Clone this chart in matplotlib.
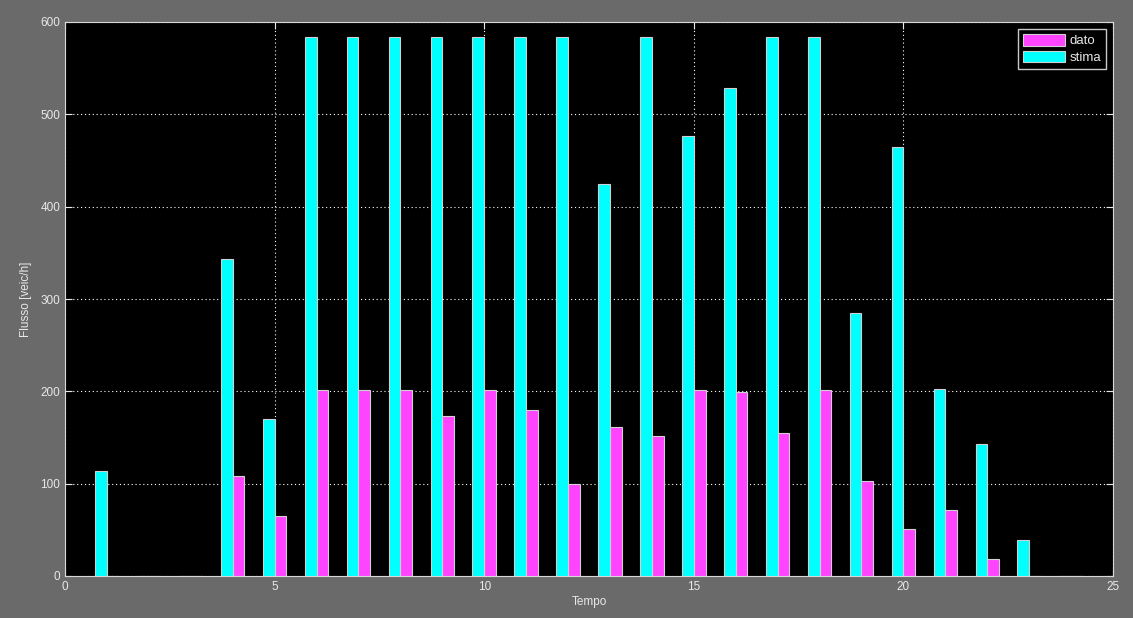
import numpy as np
import matplotlib.pyplot as plt

# time steps and the two series
tempo = np.arange(1, 25)
stima = [114, 0, 0, 343, 170, 584, 584, 584, 584, 584, 584, 584,
         425, 584, 477, 528, 584, 584, 285, 465, 202, 143, 39, 0]
dato = [0, 0, 0, 108, 65, 201, 201, 201, 173, 201, 180, 100,
        161, 152, 201, 199, 155, 201, 103, 51, 72, 18, 0, 0]

fg = '#e8e8e8'
bg = '#6a6a6a'

plt.rcParams['font.family'] = ['Liberation Sans', 'DejaVu Sans']

fig = plt.figure(figsize=(11.33, 6.18), dpi=100, facecolor=bg)

ax = fig.add_axes([65/1133, 1 - 576/618, (1113 - 65)/1133, (576 - 22)/618])
ax.set_facecolor('black')

w = 0.28
ax.bar(tempo + 0.14, dato, w, color='#ff44ff', edgecolor='#d0d0d0',
       linewidth=0.8, label='dato', zorder=3)
ax.bar(tempo - 0.14, stima, w, color='#00ffff', edgecolor='#d0d0d0',
       linewidth=0.8, label='stima', zorder=3)

ax.set_xlim(0, 25)
ax.set_ylim(0, 600)
ax.set_xticks([0, 5, 10, 15, 20, 25])
ax.set_yticks(range(0, 601, 100))
ax.grid(True, color='white', linestyle=(0, (1, 2.5)), linewidth=0.8)
ax.set_axisbelow(True)
ax.tick_params(direction='in', colors=fg, labelsize=8.5, length=5,
               top=True, right=True, labelcolor=fg)
for s in ax.spines.values():
    s.set_color('#d8d8d8')
    s.set_linewidth(0.8)

ax.set_xlabel('Tempo', color=fg, fontsize=8.5, labelpad=2)
ax.set_ylabel('Flusso [veic/h]', color=fg, fontsize=8.5, labelpad=6)

# legend order: dato, stima
h, l = ax.get_legend_handles_labels()
leg = ax.legend(h, l, loc='upper right', fontsize=9.5, facecolor='black',
                edgecolor='#c8c8c8', framealpha=1, fancybox=False,
                borderaxespad=0.55, handlelength=3.2, handleheight=1.0,
                handletextpad=0.35, labelspacing=0.25, borderpad=0.35)
for t in leg.get_texts():
    t.set_color(fg)

fig.savefig('out.png', dpi=100, facecolor=fig.get_facecolor())
